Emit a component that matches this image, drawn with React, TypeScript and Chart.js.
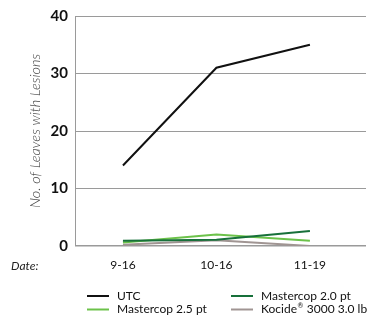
import React, { useEffect, useRef } from "react";
import { Chart, registerables } from "chart.js";

Chart.register(...registerables);

const dates = ["9-16", "10-16", "11-19"];
const utc = [14, 31, 35];
const mastercop20 = [0.9, 1.1, 2.6];
const mastercop25 = [0.6, 2.0, 0.9];
const kocide = [0.2, 1.0, 0.0];
const yTicks = [0, 10, 20, 30, 40];
const seriesNames = ["UTC", "Mastercop 2.0 pt", "Mastercop 2.5 pt", "Kocide\u00AE 3000 3.0 lb"];
const seriesColors = ["#111111", "#17703a", "#6cc24a", "#a09593"];
const FONT = "Lato, 'Open Sans', sans-serif";

function drawLabel(ctx: any, text: string, x: number, y: number) {
  const parts = text.split("\u00AE");
  let cx = x;
  parts.forEach((p, i) => {
    ctx.font = `12px ${FONT}`;
    ctx.fillText(p, cx, y);
    cx += ctx.measureText(p).width;
    if (i < parts.length - 1) {
      ctx.font = `7px ${FONT}`;
      ctx.fillText("\u00AE", cx + 0.5, y - 4);
      cx += ctx.measureText("\u00AE").width + 1;
    }
  });
}

const legendPlugin = {
  id: "customLegend",
  afterDraw(chart: any) {
    const ctx = chart.ctx;
    ctx.save();
    ctx.font = `italic 12px ${FONT}`;
    ctx.fillStyle = "#222";
    ctx.textBaseline = "middle";
    ctx.textAlign = "left";
    ctx.fillText("Date:", 11, 266);
    const cols = [87, 231];
    const rows = [296, 309.5];
    const slots = [
      [0, 0],
      [1, 0],
      [0, 1],
      [1, 1],
    ];
    chart.data.datasets.forEach((ds: any, i: number) => {
      const [c, r] = slots[i];
      const x = cols[c];
      const y = rows[r];
      ctx.strokeStyle = ds.borderColor;
      ctx.lineWidth = 2;
      ctx.beginPath();
      ctx.moveTo(x, y);
      ctx.lineTo(x + 22, y);
      ctx.stroke();
      ctx.fillStyle = "#111";
      drawLabel(ctx, ds.label, x + 30, y);
    });
    ctx.restore();
  },
};

export default function App() {
  const ref = useRef<HTMLCanvasElement>(null);
  useEffect(() => {
    const series = [utc, mastercop20, mastercop25, kocide];
    const chart = new Chart(ref.current!, {
      type: "line",
      data: {
        datasets: series.map((vals, i) => ({
          label: seriesNames[i],
          data: vals.map((v, j) => ({ x: j, y: v })),
          borderColor: seriesColors[i],
          backgroundColor: seriesColors[i],
          borderWidth: 2,
          pointRadius: 0,
          tension: 0,
        })),
      },
      options: {
        animation: false,
        responsive: false,
        maintainAspectRatio: false,
        layout: { padding: { top: 16, right: 1, left: 0, bottom: 0 } },
        plugins: {
          legend: { display: false },
          tooltip: { enabled: false },
        },
        scales: {
          x: {
            type: "linear",
            min: -0.513,
            max: 2.6,
            afterBuildTicks: (scale: any) => {
              scale.ticks = dates.map((_, i) => ({ value: i }));
            },
            afterFit: (scale: any) => {
              scale.height = 70;
            },
            grid: { display: false, drawTicks: false },
            border: { display: false },
            ticks: {
              padding: 12,
              color: "#111",
              font: { family: FONT, size: 12 },
              callback: (v: any) => dates[v] ?? "",
              maxRotation: 0,
              autoSkip: false,
            },
          },
          y: {
            min: 0,
            max: 40,
            afterBuildTicks: (scale: any) => {
              scale.ticks = yTicks.map((v) => ({ value: v }));
            },
            afterFit: (scale: any) => {
              scale.width = 75;
            },
            grid: {
              color: "#9a9a9a",
              lineWidth: (c: any) => (c.tick && c.tick.value === 0 ? 1.5 : 1),
              drawTicks: false,
            },
            border: { display: true, color: "#9a9a9a", width: 1 },
            ticks: {
              padding: 7,
              color: "#111",
              font: { family: FONT, size: 15, weight: "bold" },
            },
            title: {
              display: true,
              text: "No. of Leaves with Lesions",
              color: "#444",
              font: { family: FONT, size: 14.5, style: "italic", weight: 300 },
              padding: { top: 27, bottom: 0 },
            },
          },
        },
      },
      plugins: [legendPlugin],
    });
    return () => chart.destroy();
  }, []);
  return (
    <div style={{ position: "absolute", left: 0, top: 0, width: 367, height: 316, background: "#fff" }}>
      <canvas ref={ref} width={367} height={316} style={{ width: 367, height: 316 }} />
    </div>
  );
}
